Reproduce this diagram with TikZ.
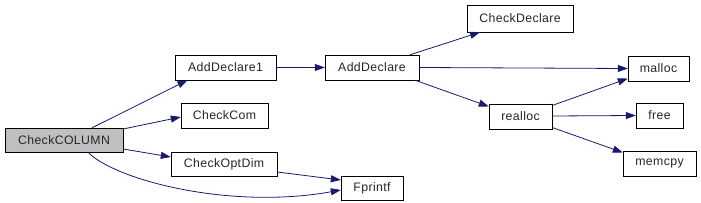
\documentclass[tikz,border=0pt]{standalone}
\usepackage{fontspec}
\setmainfont{Liberation Sans}[LetterSpace=3]
\usetikzlibrary{arrows.meta}
\definecolor{edgec}{HTML}{191970}
\definecolor{rootfill}{HTML}{BFBFBF}
\tikzset{
  fn/.style={draw=black, fill=white, inner sep=0pt, minimum height=25pt, font=\fontsize{12.3pt}{14pt}\selectfont, text=black!85},
  call/.style={draw=edgec, line width=0.8pt, -{Triangle[length=10pt,width=7pt]}},
}
\begin{document}
\begin{tikzpicture}[x=1pt,y=-1pt]
\useasboundingbox (0,0) rectangle (701,203);
\node[fn, fill=rootfill, minimum width=118pt, minimum height=24pt] (col) at (64,140) {CheckCOLUMN};
\node[fn, minimum width=101pt] (ad1) at (225.5,67.5) {AddDeclare1};
\node[fn, minimum width=94pt] (ad) at (372,67.5) {AddDeclare};
\node[fn, minimum width=87pt] (com) at (224.5,115.5) {CheckCom};
\node[fn, minimum width=106pt, minimum height=24pt] (opt) at (224,164) {CheckOptDim};
\node[fn, minimum width=62pt, minimum height=24pt] (fpr) at (372,188) {Fprintf};
\node[fn, minimum width=106pt, minimum height=27pt] (cdec) at (520,18.5) {CheckDeclare};
\node[fn, minimum width=61pt] (mal) at (658.5,68.5) {malloc};
\node[fn, minimum width=63pt] (real) at (520.5,116.5) {realloc};
\node[fn, minimum width=47pt] (free) at (659.5,115.5) {free};
\node[fn, minimum width=73pt] (mem) at (659.5,163.5) {memcpy};

\draw[call] ([xshift=28pt]col.north) -- ([xshift=-38pt]ad1.south);
\draw[call] ([yshift=11pt]col.east) -- ([yshift=-1.5pt]com.west);
\draw[call] ([yshift=-9pt]col.east) -- ([yshift=7pt]opt.west);
\draw[call] ([xshift=24pt]col.south) .. controls (115,180) and (230,210) .. ([yshift=-2pt]fpr.west);
\draw[call] ([yshift=-8pt]opt.east) -- ([yshift=8pt]fpr.west);
\draw[call] (ad1.east) -- (ad.west);
\draw[call] ([xshift=38pt]ad.north) -- ([xshift=-40pt]cdec.south);
\draw[call] (ad.east) -- (mal.west);
\draw[call] ([xshift=43pt]ad.south) -- ([yshift=10pt]real.west);
\draw[call] ([yshift=11pt]real.east) -- ([yshift=-10pt]mal.west);
\draw[call] ([yshift=0.5pt]real.east) -- (free.west);
\draw[call] ([yshift=-11pt]real.east) -- ([yshift=11pt]mem.west);
\end{tikzpicture}
\end{document}
